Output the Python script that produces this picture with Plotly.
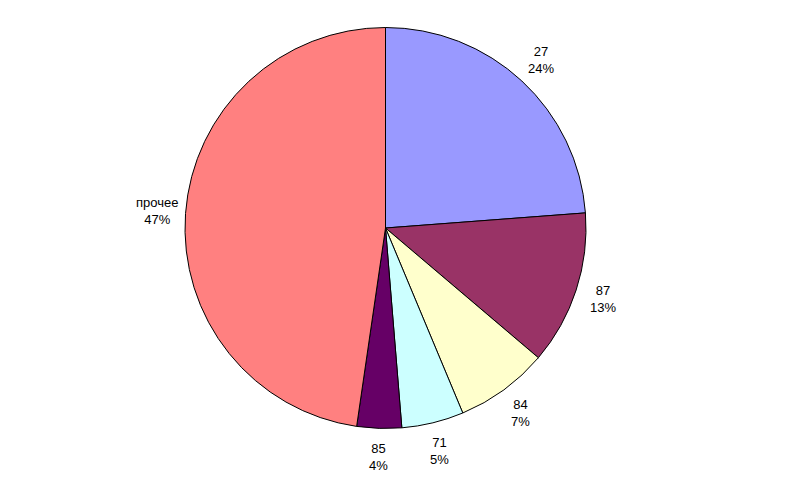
import math
import plotly.graph_objects as go

labels = ["27", "87", "84", "71", "85", "прочее"]
values = [23.8, 12.4, 7.5, 5.0, 3.6, 47.7]
pct_labels = ["24%", "13%", "7%", "5%", "4%", "47%"]
colors = ["#9999FF", "#993366", "#FFFFCC", "#CCFFFF", "#660066", "#FF8080"]

W, H = 800, 498
OFF = 8  # browser body margin
cx, cy, R = 385.5 - OFF, 228 - OFF, 200.5  # pie centre/radius in page px
LABEL_R = 229

fig = go.Figure(go.Pie(
    labels=labels,
    values=values,
    sort=False,
    direction="clockwise",
    rotation=0,
    marker=dict(colors=colors, line=dict(color="black", width=1)),
    textinfo="none",
    showlegend=False,
    hoverinfo="label+percent",
    domain=dict(x=[(cx - R) / W, (cx + R) / W], y=[1 - (cy + R) / H, 1 - (cy - R) / H]),
))

total = sum(values)
cum = 0.0
annotations = []
for lab, v, pct in zip(labels, values, pct_labels):
    mid = (cum + v / 2) / total * 2 * math.pi
    cum += v
    px = cx + LABEL_R * math.sin(mid)
    py = cy - LABEL_R * math.cos(mid)
    annotations.append(dict(
        x=px / W, y=1 - py / H, xref="paper", yref="paper",
        text=f"{lab}<br>{pct}",
        showarrow=False, xanchor="center", yanchor="middle", align="center",
        font=dict(family="Liberation Sans, Arial", size=13, color="black"),
    ))

fig.update_layout(
    width=W, height=H,
    margin=dict(l=0, r=0, t=0, b=0),
    paper_bgcolor="white", plot_bgcolor="white",
    annotations=annotations,
)
fig.write_html("out.html")
